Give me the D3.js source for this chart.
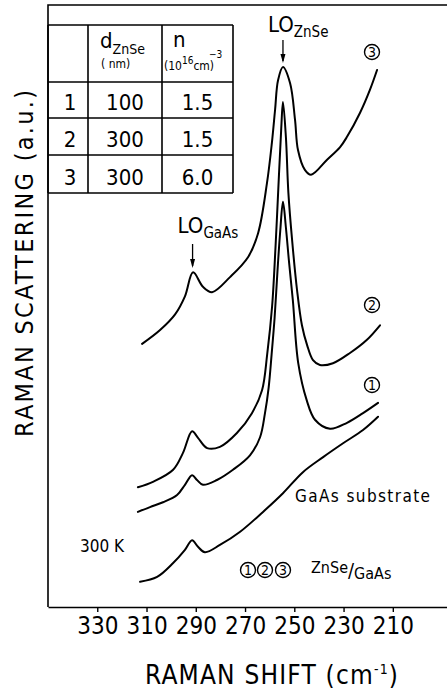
<!DOCTYPE html>
<html>
<head>
<meta charset="utf-8">
<script src="https://cdn.jsdelivr.net/npm/d3@7"></script>
<style>
  body { margin: 0; background: #fff; }
  svg { display: block; }
  text { font-family: "Liberation Sans Narrow", "DejaVu Sans Condensed", "DejaVu Sans", sans-serif; font-stretch: condensed; fill: #000; }
</style>
</head>
<body>
<svg width="447" height="690"></svg>
<script>
// raman shift (cm-1) , intensity (a.u.)
var curve3 = [[311.8,43.7],[304.5,46.0],[298.4,48.6],[294.4,51.6],[291.1,55.6],[287.1,53.2],
  [283.4,52.3],[276.1,54.8],[268.8,58.1],[264.7,62.1],[261.1,70.4],[259.1,77.1],[257.8,82.6],[256.6,87.5],
  [254.6,89.7],[251.7,87.0],[249.7,80.9],[248.5,75.9],[245.7,72.6],[243.2,71.8],[236.7,74.3],[231.4,76.4],
  [228.6,78.1],[223.3,82.1],[219.3,85.9],[216.4,89.2]];
var curve2 = [[313.5,19.9],[307.4,20.8],[299.2,22.8],[295.2,25.6],[291.5,29.2],[289.1,28.1],[285.4,26.4],
  [280.2,26.6],[273.3,28.9],[267.2,32.2],[263.1,36.0],[261.0,42.0],[259.0,50.0],[257.6,60.0],[256.2,72.0],
  [255.3,79.5],[254.6,83.9],[253.4,78.0],[252.4,68.8],[250.9,61.0],[248.9,52.7],[246.9,46.8],[244.8,43.5],
  [242.4,41.0],[239.6,40.2],[234.3,40.5],[227.4,42.2],[220.5,44.4],[215.2,46.8]];
var curve1 = [[313.5,15.8],[308.6,16.6],[303.3,17.4],[297.6,18.6],[294.4,20.3],[291.5,21.9],[289.5,21.1],
  [287.1,20.3],[281.4,21.1],[274.9,22.8],[268.0,25.2],[263.9,28.2],[261.9,32.2],[260.4,36.5],[259.2,42.0],
  [258.0,48.0],[256.8,56.0],[255.7,62.5],[254.6,67.3],[253.4,63.0],[252.2,57.6],[250.6,51.0],[248.4,40.5],
  [245.0,34.4],[241.6,31.1],[235.5,29.6],[228.6,30.6],[222.1,32.2],[216.0,33.9]];
var substrate = [[312.6,4.2],[305.7,5.0],[299.2,7.3],[294.4,9.5],[291.5,11.1],[289.1,10.0],[286.3,9.1],
  [280.2,10.3],[272.0,12.5],[262.7,15.8],[254.6,18.9],[246.5,22.4],[238.3,24.9],[230.2,27.2],[222.1,29.4],
  [216.0,31.6]];

var tickVals = [330, 310, 290, 270, 250, 230, 210];
var tableHead = ["", "d", "n"];
var tableRows = [["1", "100", "1.5"], ["2", "300", "1.5"], ["3", "300", "6.0"]];

var svg = d3.select("svg");

var x = d3.scaleLinear().domain([350, 188]).range([48, 447]);
var y = d3.scaleLinear().domain([0, 100]).range([607, 5]);

// frame: top and left, bottom comes from the axis
svg.append("path")
   .attr("d", "M447," + y(100) + "H" + x(350) + "V" + y(0))
   .attr("fill", "none").attr("stroke", "#000").attr("stroke-width", 1.6);

var ax = svg.append("g")
   .attr("transform", "translate(0," + y(0) + ")")
   .call(d3.axisBottom(x).tickValues(tickVals).tickSize(5).tickSizeOuter(0).tickPadding(5));
ax.select(".domain").attr("stroke-width", 1.6);
ax.selectAll(".tick line").attr("stroke-width", 1.4);
ax.selectAll(".tick text").attr("font-size", "24px").attr("fill", "#000")
   .style("font-family", "'Liberation Sans Narrow','DejaVu Sans Condensed','DejaVu Sans',sans-serif");

// axis titles
var xt = svg.append("text").attr("x", 145).attr("y", 684).attr("font-size", "26px")
   .attr("textLength", 253).attr("lengthAdjust", "spacing");
xt.append("tspan").text("RAMAN SHIFT  (cm");
xt.append("tspan").attr("dy", -10).attr("font-size", "14px").text("-1");
xt.append("tspan").attr("dy", 10).text(")");

svg.append("text")
   .attr("transform", "translate(33,437) rotate(-90)")
   .attr("font-size", "25px")
   .attr("textLength", 347).attr("lengthAdjust", "spacing")
   .text("RAMAN SCATTERING  (a.u.)");

// spectra
var line = d3.line()
   .x(function(d) { return x(d[0]); })
   .y(function(d) { return y(d[1]); })
   .curve(d3.curveCatmullRom.alpha(0.5));

svg.selectAll(".spec")
   .data([substrate, curve1, curve2, curve3])
   .enter().append("path")
   .attr("class", "spec")
   .attr("d", line)
   .attr("fill", "none")
   .attr("stroke", "#000")
   .attr("stroke-width", 2)
   .attr("stroke-linejoin", "round")
   .attr("stroke-linecap", "round");

// table
var colX = [48, 88, 162, 233];
var rowY = [25, 82, 118, 155, 193];
var tbl = svg.append("g").attr("stroke", "#000").attr("stroke-width", 1.6).attr("fill", "none");
rowY.forEach(function(ry) { tbl.append("line").attr("x1", colX[0]).attr("x2", colX[3]).attr("y1", ry).attr("y2", ry); });
colX.forEach(function(cx) { tbl.append("line").attr("x1", cx).attr("x2", cx).attr("y1", rowY[0]).attr("y2", rowY[4]); });

tableRows.forEach(function(r, i) {
  r.forEach(function(v, j) {
    svg.append("text")
       .attr("x", (colX[j] + colX[j + 1]) / 2 + (j == 0 ? 2 : 0))
       .attr("y", rowY[i + 2] - 8)
       .attr("text-anchor", "middle")
       .attr("font-size", "22px")
       .text(v);
  });
});

var h1 = svg.append("text").attr("x", 100).attr("y", 48).attr("font-size", "22px");
h1.append("tspan").text(tableHead[1]);
h1.append("tspan").attr("dy", 6).attr("font-size", "14px").text("ZnSe");
svg.append("text").attr("x", 101).attr("y", 68).attr("font-size", "12px").text("( nm)");

svg.append("text").attr("x", 173).attr("y", 47).attr("font-size", "22px").text(tableHead[2]);
var h2 = svg.append("text").attr("x", 164).attr("y", 70).attr("font-size", "12px");
h2.append("tspan").text("(10");
h2.append("tspan").attr("dy", -6).attr("font-size", "10px").text("16");
h2.append("tspan").attr("dy", 6).text("cm)");
svg.append("text").attr("x", 209).attr("y", 58).attr("font-size", "10px").text("\u22123");

// peak labels with arrows
function peakLabel(xp, yTxt, sub, yArrowTop, yArrowTip) {
  var t = svg.append("text").attr("x", xp - 15).attr("y", yTxt).attr("font-size", "22px");
  t.append("tspan").text("LO");
  t.append("tspan").attr("dy", 5).attr("font-size", "15px").text(sub);
  svg.append("line").attr("x1", xp).attr("x2", xp).attr("y1", yArrowTop).attr("y2", yArrowTip - 2)
     .attr("stroke", "#000").attr("stroke-width", 1.3);
  svg.append("path")
     .attr("d", "M" + (xp - 2.5) + "," + (yArrowTip - 9) + "L" + (xp + 2.5) + "," + (yArrowTip - 9) + "L" + xp + "," + yArrowTip + "Z")
     .attr("fill", "#000");
}
peakLabel(x(254.6), 32, "ZnSe", 40, 63);
peakLabel(x(291.3), 233, "GaAs", 244, 268);

// circled sample numbers
function circled(cx, cy, label) {
  svg.append("circle").attr("cx", cx).attr("cy", cy).attr("r", 7.5)
     .attr("fill", "none").attr("stroke", "#000").attr("stroke-width", 1.4);
  svg.append("text").attr("x", cx).attr("y", cy + 5).attr("text-anchor", "middle")
     .attr("font-size", "14px").text(label);
}
circled(372, 52, "3");
circled(372, 305, "2");
circled(372, 385, "1");
circled(248, 570, "1");
circled(265, 570, "2");
circled(283, 570, "3");

var zt = svg.append("text").attr("x", 311).attr("y", 573).attr("font-size", "16px");
zt.append("tspan").text("ZnSe");
zt.append("tspan").attr("dy", 4).attr("font-size", "20px").text("/");
zt.append("tspan").attr("dy", 2).text("GaAs");

svg.append("text").attr("x", 295).attr("y", 502).attr("font-size", "17px")
   .attr("textLength", 135).attr("lengthAdjust", "spacing").text("GaAs substrate");
svg.append("text").attr("x", 80).attr("y", 552).attr("font-size", "17px").text("300 K");
</script>
</body>
</html>
